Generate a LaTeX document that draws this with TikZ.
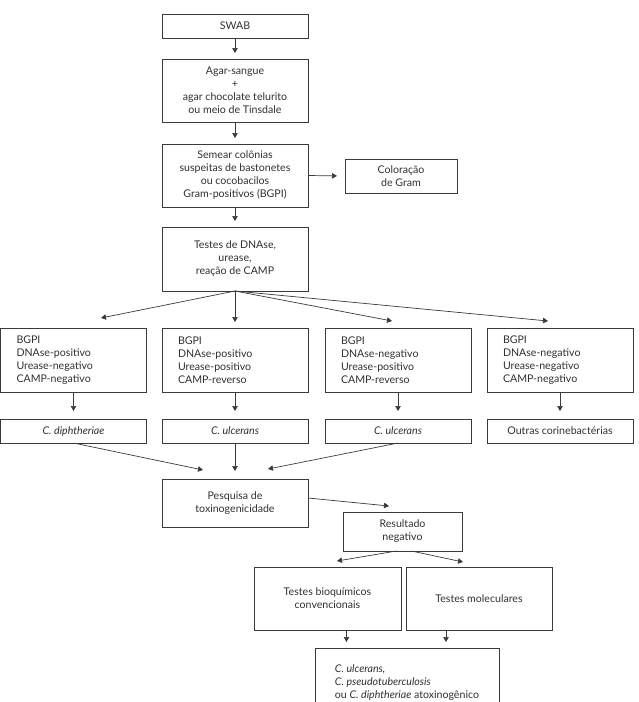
\documentclass[tikz,border=0pt]{standalone}
\usepackage{fontspec}
\setmainfont{Lato}
\usetikzlibrary{arrows.meta}
\definecolor{linegray}{HTML}{3A3A3A}
\definecolor{textgray}{HTML}{303030}
\begin{document}
\begin{tikzpicture}[x=1pt,y=-1pt,
    box/.style={draw=linegray,line width=0.7pt,rectangle,anchor=north west,inner sep=0pt,outer sep=0pt,align=center,text=textgray,font=\fontsize{10.6}{13}\selectfont},
    testbox/.style={box,align=left,text width=114pt,minimum width=146pt,minimum height=64pt},
    sppbox/.style={box,minimum width=146pt,minimum height=24pt},
    arr/.style={draw=linegray,line width=0.7pt,-{Triangle[length=5pt,width=5.5pt]},shorten >=6pt}]
    \useasboundingbox (0,0) rectangle (639,702);
    \node[box,minimum width=146pt,minimum height=24pt] (swab) at (162,14) {SWAB};
    \node[box,minimum width=146pt,minimum height=63pt] (agar) at (162,59) {Agar-sangue\\+\\agar chocolate telurito\\ou meio de Tinsdale};
    \node[box,minimum width=146pt,minimum height=63pt] (semear) at (162,144) {Semear colônias\\suspeitas de bastonetes\\ou cocobacilos\\Gram-positivos (BGPI)};
    \node[box,minimum width=112pt,minimum height=34pt] (gram) at (345,159) {Coloração\\de Gram};
    \node[box,minimum width=146pt,minimum height=64pt] (testes) at (162,227) {Testes de DNAse,\\urease,\\reação de CAMP};
    \node[testbox] (b1) at (0.5,328) {BGPI\\DNAse-positivo\\Urease-negativo\\CAMP-negativo};
    \node[testbox] (b2) at (162,328) {BGPI\\DNAse-positivo\\Urease-positivo\\CAMP-reverso};
    \node[testbox] (b3) at (325,328) {BGPI\\DNAse-negativo\\Urease-positivo\\CAMP-reverso};
    \node[testbox] (b4) at (487,328) {BGPI\\DNAse-negativo\\Urease-negativo\\CAMP-negativo};
    \node[sppbox] (s1) at (0.5,419) {\textit{C. diphtheriae}};
    \node[sppbox] (s2) at (162,419) {\textit{C. ulcerans}};
    \node[sppbox] (s3) at (325,419) {\textit{C. ulcerans}};
    \node[sppbox] (s4) at (487,419) {Outras corinebactérias};
    \node[box,minimum width=146pt,minimum height=48pt] (pesq) at (162,479) {Pesquisa de\\toxinogenicidade};
    \node[box,minimum width=119pt,minimum height=39pt] (result) at (343,512) {Resultado\\negativo};
    \node[box,minimum width=147pt,minimum height=63pt] (bioq) at (254,567) {Testes bioquímicos\\convencionais};
    \node[box,minimum width=146pt,minimum height=63pt] (molec) at (406,567) {Testes moleculares};
    \node[box,align=left,minimum width=184pt,minimum height=70pt] (final) at (315,648) {\textit{C. ulcerans,}\\\textit{C. pseudotuberculosis}\\ou \textit{C. diphtheriae} atoxinogênico};
    \draw[arr] (swab.south) -- (agar.north);
    \draw[arr] (agar.south) -- (semear.north);
    \draw[arr] (semear.south) -- (testes.north);
    \draw[arr,shorten >=8pt] (semear.east) -- (gram.west);
    \draw[arr,shorten >=0pt] (testes.south) -- ([xshift=27.5pt,yshift=10pt]b1.north);
    \draw[arr] (testes.south) -- (b2.north);
    \draw[arr,shorten >=0pt] (testes.south) -- ([xshift=-6pt,yshift=7pt]b3.north);
    \draw[arr,shorten >=0pt] (testes.south) -- ([xshift=-12pt,yshift=7pt]b4.north);
    \foreach \i in {1,...,4}
        \draw[arr,shorten >=8pt] (b\i.south) -- (s\i.north);
    \draw[arr,shorten >=0pt] (s1.south) -- ([xshift=-32pt,yshift=9pt]pesq.north);
    \draw[arr,shorten >=8pt] (s2.south) -- (pesq.north);
    \draw[arr,shorten >=0pt] (s3.south) -- ([xshift=33pt,yshift=10pt]pesq.north);
    \draw[arr,shorten >=0pt] ([yshift=5pt]pesq.east) -- ([xshift=-13.5pt,yshift=6pt]result.north);
    \draw[arr,shorten >=0pt] ([xshift=-6pt]result.south) -- ([xshift=9.5pt,yshift=6pt]bioq.north);
    \draw[arr,shorten >=0pt] ([xshift=9pt]result.south) -- ([xshift=-16pt,yshift=5pt]molec.north);
    \draw[arr] ([xshift=19pt]bioq.south) -- ([xshift=19pt]bioq.south |- final.north);
    \draw[arr] ([xshift=-33pt]molec.south) -- ([xshift=-33pt]molec.south |- final.north);
\end{tikzpicture}
\end{document}
